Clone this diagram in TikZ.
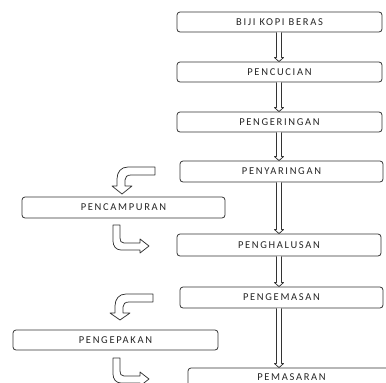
\documentclass[tikz,border=0pt]{standalone}
\usepackage{fontspec}
\setmainfont{Carlito}
\usetikzlibrary{calc}
\newfontfamily\boxfont[LetterSpace=16]{Carlito}
\tikzset{
  procbox/.style={draw=black!80, line width=0.8pt, rounded corners=3pt, fill=white,
    inner sep=0pt, minimum height=20pt, minimum width=205pt,
    font=\boxfont\fontsize{10.5}{11}\selectfont, text=black!85},
  hollow/.style={draw=black!80, line width=0.75pt, fill=white, line join=round},
}
\newcommand{\varrow}[2]{%
  \draw[hollow] let \p1=(#1.south), \p2=(#2.north) in
    (276.5pt,\y1) -- (276.5pt,{\y2+4pt}) -- (274.5pt,{\y2+4pt}) -- (279pt,\y2)
    -- (283.5pt,{\y2+4pt}) -- (281.5pt,{\y2+4pt}) -- (281.5pt,\y1);}
\begin{document}
\begin{tikzpicture}[x=1pt,y=-1pt]
\useasboundingbox (0,0) rectangle (386,383);
\clip (0,0) rectangle (386,383);
\node[procbox] (b1) at (279.5,22) {BIJI KOPI BERAS};
\node[procbox] (b2) at (279.5,72) {PENCUCIAN};
\node[procbox] (b3) at (279.5,122) {PENGERINGAN};
\node[procbox, minimum width=203pt, minimum height=21pt] (b4) at (281.5,171.5) {PENYARINGAN};
\node[procbox, minimum width=203pt, minimum height=21pt] (b5) at (123.5,207.5) {PENCAMPURAN};
\node[procbox, minimum width=204pt, minimum height=22pt] (b6) at (279,245) {PENGHALUSAN};
\node[procbox, minimum width=203pt, minimum height=21pt] (b7) at (281.5,297.5) {PENGEMASAN};
\node[procbox] (b8) at (115.5,340) {PENGEPAKAN};
\node[procbox, minimum width=207pt, minimum height=22pt] (b9) at (291.5,379) {\raisebox{3pt}{PEMASARAN}\hspace{10pt}};
\varrow{b1}{b2}
\varrow{b2}{b3}
\varrow{b3}{b4}
\varrow{b4}{b6}
\varrow{b6}{b7}
\varrow{b7}{b9}
% curved arrows: down-left
\draw[hollow] (155,167) -- (128,167) .. controls (121,167) and (117,172) .. (117,179)
  -- (117,186) -- (112,186) -- (122,194) -- (132,186) -- (125,186) -- (125,180)
  .. controls (125,177) and (127,175) .. (131,175) -- (155,175) -- cycle;
\draw[hollow] (153,294) -- (126,294) .. controls (119,294) and (115,299) .. (115,306)
  -- (115,313) -- (110,313) -- (120,320) -- (130,313) -- (123,313) -- (123,307)
  .. controls (123,304) and (125,302) .. (129,302) -- (153,302) -- cycle;
% curved arrows: down-right
\draw[hollow] (113,225) -- (113,241) .. controls (113,246) and (116,250) .. (121,250)
  -- (140,250) -- (140,253) -- (149,246) -- (140,239) -- (140,243) -- (124,243)
  .. controls (121,243) and (120,241) .. (120,238) -- (120,225) -- cycle;
\draw[hollow] (113,358) -- (113,374) .. controls (113,379) and (116,383) .. (121,383)
  -- (140,383) -- (140,386) -- (149,379) -- (140,372) -- (140,376) -- (124,376)
  .. controls (121,376) and (120,374) .. (120,371) -- (120,358) -- cycle;
\end{tikzpicture}
\end{document}
